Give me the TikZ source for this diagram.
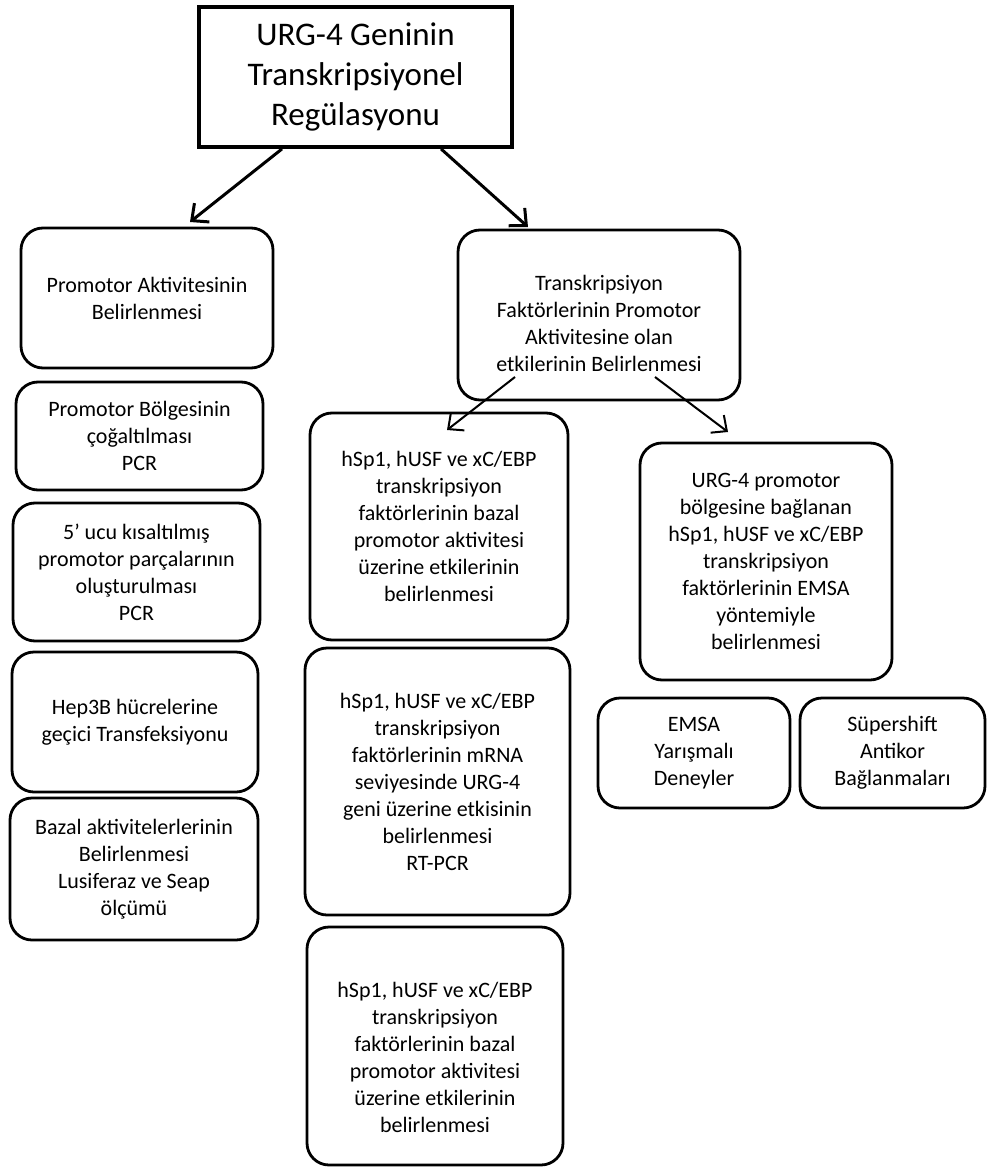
\documentclass[tikz,border=0pt]{standalone}
\usepackage{fontspec}
\setmainfont{Carlito}
\usetikzlibrary{arrows.meta,calc}
\begin{document}
\begin{tikzpicture}[x=1pt,y=-1pt,
  bx/.style={draw, rounded corners=22pt, line width=2.8pt, align=center, inner sep=0pt, font=\fontsize{22}{27}\selectfont},
  topbox/.style={draw, line width=3.8pt, align=center, inner sep=0pt, font=\fontsize{33}{40}\selectfont},
  arr/.style={-{Straight Barb[length=13pt,width=24pt]}, line width=3pt},
  arrs/.style={-{Straight Barb[length=12pt,width=22pt]}, line width=2pt}]
\fill[white] (0,0) rectangle (990,1169);
\useasboundingbox (0,0) rectangle (990,1169);

% top
\node[topbox, minimum width=313, minimum height=140] (T) at (355.5,77) {URG-4 Geninin\\Transkripsiyonel\\Regülasyonu};

% left column
\node[bx, minimum width=252, minimum height=140] (A) at (147,298) {Promotor Aktivitesinin\\Belirlenmesi};
\node[bx, minimum width=247, minimum height=108] (B) at (139.5,436) {Promotor Bölgesinin\\çoğaltılması\\PCR};
\node[bx, minimum width=247, minimum height=138] (C) at (136.5,572) {5{\char"0027} ucu kısaltılmış\\promotor parçalarının\\oluşturulması\\PCR};
\node[bx, minimum width=246, minimum height=140] (D) at (135,722) {Hep3B hücrelerine\\geçici Transfeksiyonu};
\node[bx, minimum width=248, minimum height=142] (E) at (134,869) {Bazal aktivitelerlerinin\\Belirlenmesi\\Lusiferaz ve Seap\\ölçümü};

% middle column
\node[bx, minimum width=282, minimum height=170] (F) at (599,315) {\rule{0pt}{32pt}Transkripsiyon\\Faktörlerinin Promotor\\Aktivitesine olan\\etkilerinin Belirlenmesi};
\node[bx, minimum width=258, minimum height=227] (G) at (439,526.5) {hSp1, hUSF ve xC/EBP\\transkripsiyon\\faktörlerinin bazal\\promotor aktivitesi\\üzerine etkilerinin\\belirlenmesi};
\node[bx, minimum width=265, minimum height=267] (H) at (437.5,781.5) {hSp1, hUSF ve xC/EBP\\transkripsiyon\\faktörlerinin mRNA\\seviyesinde URG-4\\geni üzerine etkisinin\\belirlenmesi\\RT-PCR};
\node[bx, minimum width=256, minimum height=238] (I) at (435,1046) {\rule{0pt}{38pt}hSp1, hUSF ve xC/EBP\\transkripsiyon\\faktörlerinin bazal\\promotor aktivitesi\\üzerine etkilerinin\\belirlenmesi};

% right column
\node[bx, minimum width=252, minimum height=237] (J) at (766,561.5) {URG-4 promotor\\bölgesine bağlanan\\hSp1, hUSF ve xC/EBP\\transkripsiyon\\faktörlerinin EMSA\\yöntemiyle\\belirlenmesi};
\node[bx, minimum width=192, minimum height=110] (K) at (694,753) {EMSA\\Yarışmalı\\Deneyler};
\node[bx, minimum width=185, minimum height=110] (L) at (892.5,753) {Süpershift\\Antikor\\Bağlanmaları};

% connectors
\coordinate (tA) at (190,222);
\coordinate (tF) at (528,227);
\coordinate (fG) at (515,377);
\coordinate (fJ) at (655,377);
\coordinate (tG) at (447,430);
\coordinate (tJ) at (728,432);
\draw[arr] ($(T.south west)!0.268!(T.south east)$) -- (tA);
\draw[arr] ($(T.south west)!0.77!(T.south east)$) -- (tF);
\draw[arrs] (fG) -- (tG);
\draw[arrs] (fJ) -- (tJ);
\end{tikzpicture}
\end{document}
